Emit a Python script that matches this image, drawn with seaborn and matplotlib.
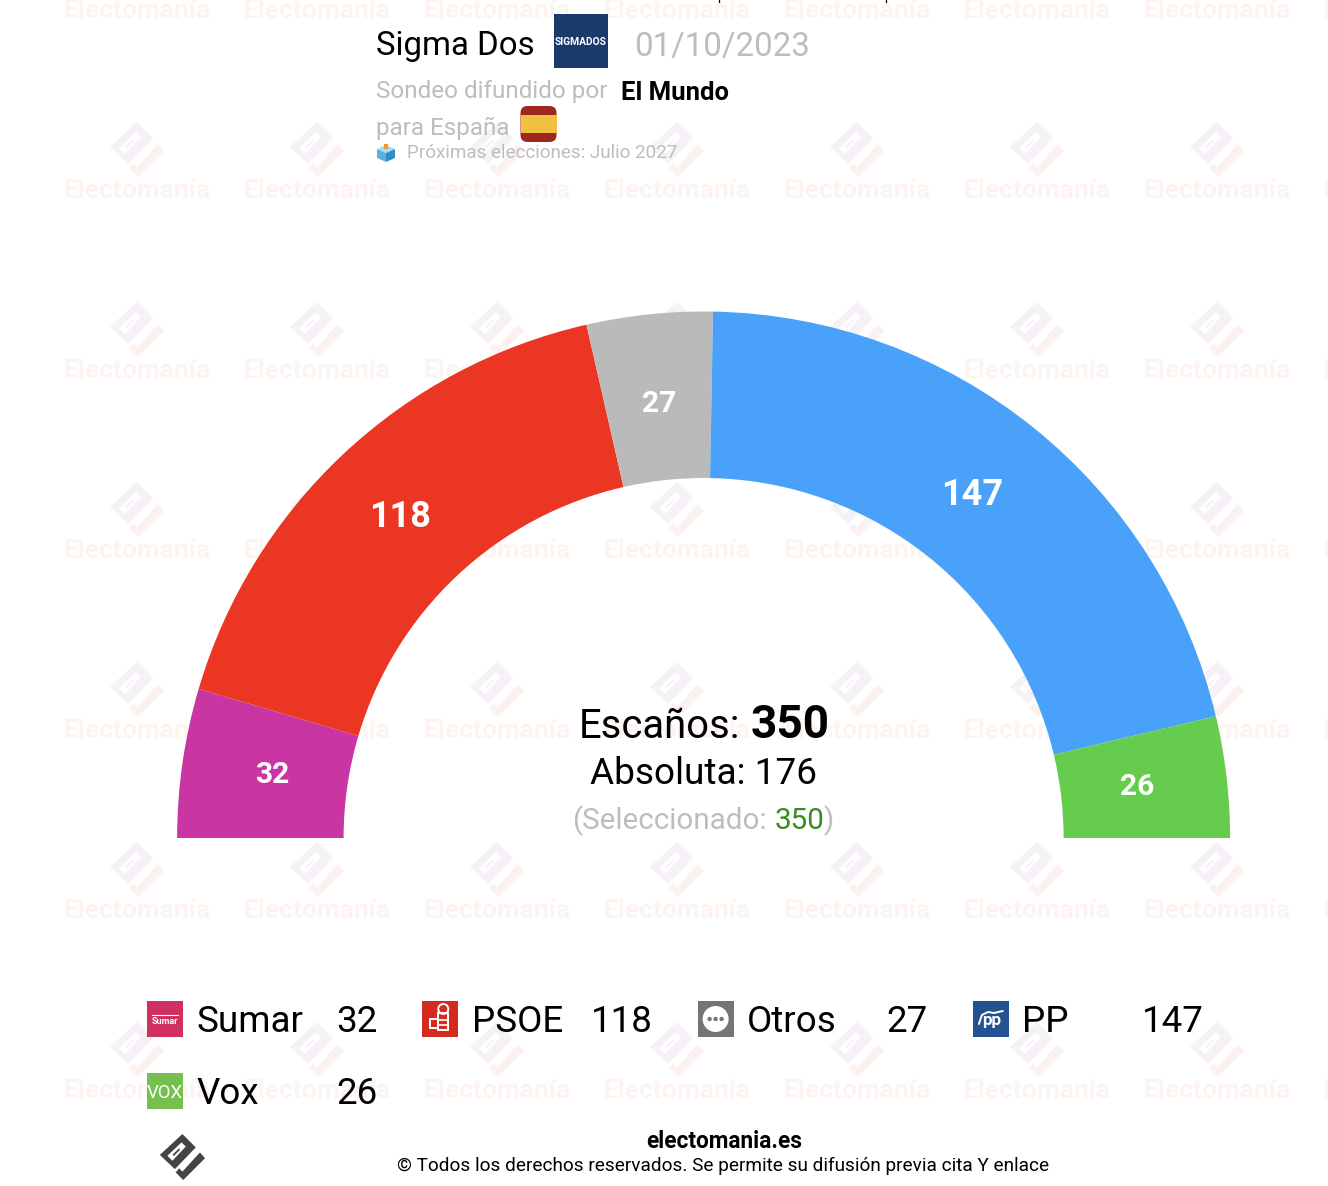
"""Seat projection hemicycle, Sigma Dos poll for El Mundo."""
import matplotlib
matplotlib.use("Agg")
import matplotlib.pyplot as plt
from matplotlib.patches import Circle, FancyBboxPatch, Polygon, Rectangle
import seaborn as sns

sns.set_theme(style="white")
plt.rcParams["font.family"] = ["Roboto", "DejaVu Sans"]

W, H = 1328, 1186

PARTIES = ["Sumar", "PSOE", "Otros", "PP", "Vox"]
SEATS = [32, 118, 27, 147, 26]
ARC_COLORS = ["#c936a4", "#eb3623", "#bababa", "#49a1fa", "#66cc4d"]
ICON_COLORS = ["#d0305f", "#d42b20", "#757575", "#235291", "#75c04f"]
LABEL_PX = [30, 36, 30, 36, 30]
LABEL_NUDGE = [(7, 0), (0, 2), (1, 7), (-9, 2), (-6, 1)]

GREY = "#bdbdbd"
WM_TEXT = "#fdf4f0"
WM_LOGO = "#f6f1f7"
WM_CHECK = "#fbf1ef"


def yy(y):
    return H - y


def txt(x, y, s, px, color="black", weight="normal", ha="left", zorder=5):
    return ax.text(x, yy(y), s, fontsize=px * 0.72, color=color, fontweight=weight,
                   ha=ha, va="baseline", zorder=zorder)


def logo(cx, cy, k, body, check, hole="white", zorder=1):
    def pts(rel):
        return [(cx + k * a, yy(cy + k * b)) for a, b in rel]
    ax.add_patch(Polygon(pts([(0, -27), (16, -11), (-9, 15), (-27, -2)]),
                         fc=body, ec="none", zorder=zorder))
    ax.add_patch(Polygon(pts([(-1, -17), (4, -12), (-12, 5), (-18, -1)]),
                         fc=hole, ec="none", zorder=zorder))
    ax.add_patch(Polygon(pts([(-4, -10), (-3, -8), (-10, -1), (-12, -2)]),
                         fc=body, ec="none", zorder=zorder))
    ax.add_patch(Polygon(pts([(21, -5), (27, 2), (1, 28), (-8, 19), (-4, 14), (0, 18)]),
                         fc=check, ec="none", zorder=zorder))


fig = plt.figure(figsize=(W / 100, H / 100), dpi=100)
ax = fig.add_axes([0, 0, 1, 1])

# half circle: the lower half of the pie stays transparent
total = sum(SEATS)
wedges, labels = ax.pie(
    SEATS + [total],
    colors=ARC_COLORS + ["none"],
    labels=[str(v) for v in SEATS] + [""],
    labeldistance=443 / 526.5,
    startangle=180,
    counterclock=False,
    center=(703.6, yy(838)),
    radius=526.5,
    wedgeprops={"width": 166.5, "linewidth": 0, "zorder": 2},
    textprops={"color": "white", "fontweight": "bold", "zorder": 4},
)
for label, px, (dx, dy) in zip(labels, LABEL_PX, LABEL_NUDGE):
    lx, ly = label.get_position()
    label.set_position((lx + dx, ly - dy))
    label.set_ha("center")
    label.set_va("center")
    label.set_fontsize(px * 0.72)

ax.set_xlim(0, W)
ax.set_ylim(0, H)
ax.set_aspect("auto")
ax.axis("off")

# watermark grid
for col in range(8):
    for row in range(7):
        x0 = 137 + 180 * col
        y0 = -31 + 180 * row
        logo(x0, y0, 1, WM_LOGO, WM_CHECK)
        txt(x0 - 74, y0 + 49, "Electomanía", 26.4, color=WM_TEXT, weight="bold", zorder=1)

# clipped items at the top edge
logo(182.4, -23, 0.836, "#444444", "#444444", zorder=3)
ax.plot([719, 719], [yy(0), yy(2)], color="black", lw=1, zorder=3)
ax.plot([886, 886], [yy(0), yy(2)], color="black", lw=1, zorder=3)

# header
txt(376, 54.5, "Sigma Dos", 33)
txt(634, 56, "01/10/2023", 33, color=GREY)
ax.add_patch(Rectangle((554, yy(68)), 54, 54, fc="#193a6b", ec="none", zorder=3))
txt(581, 45, "SIGMADOS", 10.2, color="white", weight="bold", ha="center")
txt(376, 98, "Sondeo difundido por", 24.2, color=GREY)
txt(621, 100, "El Mundo", 25.6, weight="bold")
txt(376, 135, "para España", 24.2, color=GREY)
ax.add_patch(FancyBboxPatch((520.5, yy(142)), 36, 36, boxstyle="round,pad=0,rounding_size=7",
                            fc="#a0271f", ec="none", zorder=3))
ax.add_patch(Rectangle((520.5, yy(133)), 36, 18, fc="#f0c040", ec="none", zorder=4))
ax.add_patch(Polygon([(377, yy(149)), (386, yy(145)), (395, yy(149)), (386, yy(153))],
                     fc="#a8dcef", ec="none", zorder=3))
ax.add_patch(Polygon([(377, yy(149)), (386, yy(153)), (386, yy(162)), (377, yy(158))],
                     fc="#56b3dc", ec="none", zorder=3))
ax.add_patch(Polygon([(395, yy(149)), (386, yy(153)), (386, yy(162)), (395, yy(158))],
                     fc="#2f8fc0", ec="none", zorder=3))
ax.add_patch(Rectangle((384, yy(149)), 4, 5, fc="#f0953a", ec="none", zorder=4))
txt(407, 158, "Próximas elecciones: Julio 2027", 18.9, color=GREY)

# centre block
txt(579, 738, "Escaños:", 40)
txt(751, 738, str(total), 46, weight="bold")
txt(704, 784, "Absoluta: 176", 37, ha="center")
txt(572, 829, "(Seleccionado:", 29.6, color=GREY)
txt(775, 829, str(total), 29.6, color="#3a8a1e")
txt(823, 829, ")", 29.6, color=GREY)

# legend rows
for i, (name, seats, color) in enumerate(zip(PARTIES, SEATS, ICON_COLORS)):
    x0 = 147 + 275.3 * (i % 4)
    y0 = 1001 + 72 * (i // 4)
    ax.add_patch(Rectangle((x0, yy(y0 + 36)), 36, 36, fc=color, ec="none", zorder=3))
    txt(x0 + 49.5, y0 + 30.5, name, 36.8)
    txt(x0 + 230.5, y0 + 30.5, str(seats), 36.8, ha="right")
    cx, cy = x0 + 18, y0 + 18
    if name == "Sumar":
        ax.plot([cx - 13, cx + 13], [yy(cy - 4), yy(cy - 4)], color="white", lw=0.8, zorder=4)
        txt(cx, cy + 5, "Sumar", 9, color="white", weight="bold", ha="center")
    elif name == "PSOE":
        ax.add_patch(Circle((cx + 3, yy(cy - 10)), 5, fc="none", ec="white", lw=1.4, zorder=4))
        ax.add_patch(Rectangle((cx - 2, yy(cy + 11)), 10, 17, fc="none", ec="white", lw=1.4, zorder=4))
        ax.add_patch(Rectangle((cx - 10, yy(cy + 9)), 8, 9, fc="none", ec="white", lw=1.4, zorder=4))
        ax.plot([cx - 2, cx + 8], [yy(cy + 1), yy(cy + 1)], color="white", lw=1.2, zorder=4)
        ax.plot([cx - 2, cx + 8], [yy(cy + 6), yy(cy + 6)], color="white", lw=1.2, zorder=4)
    elif name == "Otros":
        ax.add_patch(Circle((cx, yy(cy)), 13, fc="white", ec="none", zorder=4))
        for dx in (-6, 0, 6):
            ax.add_patch(Circle((cx + dx, yy(cy)), 2.2, fc="#757575", ec="none", zorder=5))
    elif name == "PP":
        txt(cx + 1, cy + 6, "pp", 17, color="white", weight="bold", ha="center")
        ax.plot([cx - 12, cx - 9, cx - 3, cx + 3, cx + 12],
                [yy(cy + 5), yy(cy - 4), yy(cy - 7), yy(cy - 6), yy(cy - 8)],
                color="white", lw=1.4, zorder=4)
    elif name == "Vox":
        txt(cx, cy + 7, "VOX", 18.5, color="white", ha="center")

# footer
logo(182.4, 1156.6, 0.836, "#444444", "#444444", zorder=3)
txt(724, 1148, "electomania.es", 22.6, weight="bold", ha="center")
txt(723.5, 1171, "© Todos los derechos reservados. Se permite su difusión previa cita Y enlace",
    19, ha="center")

fig.savefig("out.png", dpi=100, facecolor="white")
